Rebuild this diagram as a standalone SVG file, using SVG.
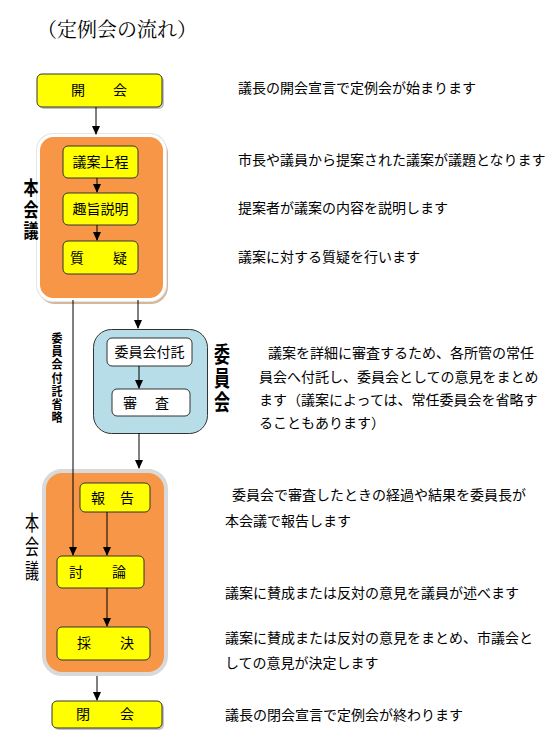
<svg xmlns="http://www.w3.org/2000/svg" width="554" height="754" viewBox="0 0 554 754">
<style>
text{font-family:"Noto Sans CJK JP","Noto Sans CJK SC",sans-serif;fill:#000}
.t{font-size:14px}
.b{font-size:14px;text-anchor:middle}
.title{font-family:"Noto Serif CJK JP","Noto Sans CJK JP",serif;font-size:20px}
.v{writing-mode:vertical-rl;text-orientation:upright}
.box{fill:#ffff00;stroke:#333;stroke-width:1}
.wbox{fill:#fff;stroke:#333;stroke-width:1}
.sh{fill:#999;opacity:.6}
.line{stroke:#000;stroke-width:1;fill:none}
</style>
<rect width="554" height="754" fill="#fff"/>
<text class="title" x="37" y="37">（定例会の流れ）</text>

<g id="open">
<rect class="sh" x="39" y="76" width="125" height="33" rx="5"/>
<rect class="box" x="37" y="74" width="125" height="33" rx="5"/>
<text class="b" x="78" y="95">開</text><text class="b" x="120" y="95">会</text>
</g>

<g id="plenary1">
<rect x="38" y="136" width="130" height="168" rx="17" fill="#d6b79c"/>
<rect x="36" y="133" width="131" height="169" rx="17" fill="#e6e6e6"/>
<rect x="38.5" y="135.5" width="126" height="164" rx="15" fill="#f79646" stroke="#fff" stroke-width="3"/>
<text class="v" font-size="15" font-weight="bold" transform="translate(31,178) scale(1,1.3)" x="0" y="0" letter-spacing="1.5">本会議</text>
</g>
<g id="n-joutei">
<rect class="box" x="63" y="146" width="75" height="32" rx="5"/>
<text class="b" x="100.5" y="167">議案上程</text>
</g>
<g id="n-setsumei">
<rect class="box" x="63" y="193" width="75" height="32" rx="5"/>
<text class="b" x="100.5" y="214">趣旨説明</text>
</g>
<g id="n-shitsugi">
<rect class="box" x="63" y="241" width="75" height="33" rx="5"/>
<text class="b" x="77" y="263">質</text><text class="b" x="120" y="263">疑</text>
</g>

<g id="skip-label">
<text class="v" font-size="11" font-weight="bold" transform="translate(57,332) scale(1,1.1)" x="0" y="0" letter-spacing="1.1">委員会付託省略</text>
</g>

<g id="committee">
<rect x="93.5" y="329.5" width="114" height="104" rx="18" fill="#b7dde8" stroke="#333" stroke-width="1"/>
<text class="v" font-size="16" font-weight="bold" transform="translate(222,343) scale(1,1.35)" x="0" y="0" letter-spacing="1.8">委員会</text>
</g>
<g id="n-futaku">
<rect class="wbox" x="107" y="338" width="85" height="28" rx="5"/>
<text class="b" x="149.5" y="357">委員会付託</text>
</g>
<g id="n-shinsa">
<rect class="wbox" x="112" y="389" width="78" height="27" rx="5"/>
<text class="b" x="130" y="408">審</text><text class="b" x="162" y="408">査</text>
</g>

<g id="plenary2">
<rect x="44" y="471" width="122" height="203" rx="18" fill="#f79646" stroke="#d9d9d9" stroke-width="4"/>
<text class="v" font-size="14" transform="translate(32,512) scale(1,1.5)" x="0" y="0" letter-spacing="1.8">本会議</text>
</g>
<g id="n-houkoku">
<rect class="box" x="80" y="483" width="70" height="29" rx="5"/>
<text class="b" x="98" y="503">報</text><text class="b" x="127" y="503">告</text>
</g>
<g id="n-touron">
<rect class="box" x="57" y="556" width="87" height="32" rx="5"/>
<text class="b" x="76" y="577">討</text><text class="b" x="119" y="577">論</text>
</g>
<g id="n-saiketsu">
<rect class="box" x="57" y="627" width="93" height="33" rx="5"/>
<text class="b" x="84" y="648">採</text><text class="b" x="127" y="648">決</text>
</g>

<g id="close">
<rect class="sh" x="54" y="703" width="110" height="27" rx="5"/>
<rect class="box" x="52" y="701" width="110" height="27" rx="5"/>
<text class="b" x="83" y="719">閉</text><text class="b" x="127" y="719">会</text>
</g>

<g id="connectors">
<line class="line" x1="96" y1="107" x2="96" y2="134"/><path d="M92,126 L100,126 L96,135 Z"/>
<line class="line" x1="97" y1="178" x2="97" y2="192"/><path d="M93,184 L101,184 L97,193 Z"/>
<line class="line" x1="97" y1="225" x2="97" y2="240"/><path d="M93,232 L101,232 L97,241 Z"/>
<line class="line" x1="138" y1="300" x2="138" y2="328"/><path d="M134,320 L142,320 L138,329 Z"/>
<line class="line" x1="73" y1="300" x2="73" y2="555"/><path d="M69,547 L77,547 L73,556 Z"/>
<line class="line" x1="139" y1="366" x2="139" y2="388"/><path d="M135,380 L143,380 L139,389 Z"/>
<line class="line" x1="139" y1="433" x2="139" y2="468"/><path d="M135,460 L143,460 L139,469 Z"/>
<line class="line" x1="107" y1="512" x2="107" y2="555"/><path d="M103,547 L111,547 L107,556 Z"/>
<line class="line" x1="107" y1="588" x2="107" y2="626"/><path d="M103,618 L111,618 L107,627 Z"/>
<line class="line" x1="97" y1="676" x2="97" y2="700"/><path d="M93,692 L101,692 L97,701 Z"/>
</g>

<g id="descriptions">
<text class="t" x="238" y="93">議長の開会宣言で定例会が始まります</text>
<text class="t" x="238" y="165">市長や議員から提案された議案が議題となります</text>
<text class="t" x="238" y="213">提案者が議案の内容を説明します</text>
<text class="t" x="238" y="262">議案に対する質疑を行います</text>
<text class="t" x="268" y="358">議案を詳細に審査するため、各所管の常任</text>
<text class="t" x="259" y="382">員会へ付託し、委員会としての意見をまとめ</text>
<text class="t" x="259" y="405">ます（議案によっては、常任委員会を省略す</text>
<text class="t" x="259" y="428">ることもあります）</text>
<text class="t" x="232" y="500">委員会で審査したときの経過や結果を委員長が</text>
<text class="t" x="225" y="526">本会議で報告します</text>
<text class="t" x="225" y="598">議案に賛成または反対の意見を議員が述べます</text>
<text class="t" x="225" y="643">議案に賛成または反対の意見をまとめ、市議会と</text>
<text class="t" x="225" y="668">しての意見が決定します</text>
<text class="t" x="225" y="720">議長の閉会宣言で定例会が終わります</text>
</g>
</svg>
